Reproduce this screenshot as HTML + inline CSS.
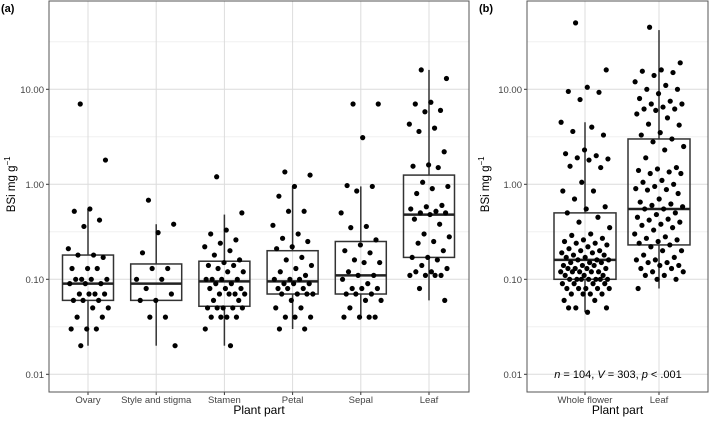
<!DOCTYPE html>
<html><head><meta charset="utf-8"><style>
body{margin:0;background:#fff}
svg text{font-family:"Liberation Sans",Arial,sans-serif}
</style></head><body>
<svg id="chart" width="709" height="419" viewBox="0 0 709 419" xmlns="http://www.w3.org/2000/svg"></svg>
<script>
// ---- data panel a ----
const catsA = ["Ovary","Style and stigma","Stamen","Petal","Sepal","Leaf"];
const q1A = [0.06,0.06,0.052,0.07,0.07,0.17];
const medA = [0.09,0.09,0.095,0.095,0.11,0.48];
const q3A = [0.18,0.145,0.155,0.2,0.25,1.25];
const loA = [0.02,0.02,0.02,0.03,0.04,0.06];
const hiA = [0.55,0.38,0.48,0.95,0.95,16];
const ptsOvary = [7,1.8,.55,.52,.42,.36,.21,.18,.18,.17,.13,.13,.13,.1,.1,.1,.1,.09,.09,.09,.07,.07,.07,.07,.06,.06,.06,.05,.05,.04,.04,.03,.03,.03,.02];
const ptsStyle = [.68,.38,.31,.19,.13,.13,.1,.1,.08,.07,.06,.06,.04,.04,.02];
const ptsStamen = [1.2,.5,.33,.3,.26,.24,.22,.2,.18,.16,.15,.14,.14,.13,.12,.12,.1,.1,.1,.1,.09,.09,.08,.08,.08,.07,.07,.07,.07,.06,.06,.05,.05,.05,.05,.05,.04,.04,.04,.04,.03,.02];
const ptsPetal = [1.35,1.25,.95,.75,.52,.52,.37,.3,.27,.25,.22,.21,.17,.16,.14,.13,.12,.11,.1,.1,.1,.09,.09,.09,.08,.08,.08,.07,.07,.07,.07,.06,.05,.05,.04,.04,.04,.03,.03];
const ptsSepal = [7,7,3.1,.97,.95,.85,.5,.36,.35,.26,.23,.2,.19,.16,.15,.15,.12,.11,.11,.1,.09,.08,.08,.08,.07,.07,.07,.06,.06,.05,.04,.04,.04,.04];
const ptsLeafA = [16,13,7.3,7,6,5.8,4.3,3.9,3.6,2.2,1.6,1.55,1.5,1.05,.95,.9,.8,.6,.58,.55,.52,.5,.5,.48,.43,.38,.3,.28,.25,.24,.2,.17,.17,.16,.14,.13,.12,.12,.11,.11,.11,.11,.08,.06];
// ---- data panel b ----
const catsB = ["Whole flower","Leaf"];
const q1B = [0.1,0.23];
const medB = [0.16,0.55];
const q3B = [0.5,3];
const loB = [0.045,0.08];
const hiB = [4.5,42];
const ptsWhole = [50,16,10.5,9.5,9.3,7.8,4.5,4,3.6,3.3,2.3,2.1,2,1.9,1.85,1.8,1.55,1.5,1.05,.85,.85,.7,.58,.55,.5,.45,.4,.35,.3,.29,.27,.26,.25,.24,.24,.23,.22,.21,.2,.2,.19,.19,.18,.18,.17,.17,.16,.16,.16,.15,.15,.15,.14,.14,.14,.13,.13,.13,.13,.12,.12,.12,.12,.12,.11,.11,.11,.1,.1,.1,.1,.1,.1,.1,.09,.09,.09,.09,.08,.08,.08,.08,.08,.07,.07,.07,.07,.06,.06,.05,.05,.045,.05];
const ptsLeafB = [45,19,16,15.5,15,14,12,11,10,10,9,8,7.5,7,7,6.5,6.2,6.2,6,5.5,5,4.3,4.2,3.5,3.3,3,2.8,2.5,2.3,1.9,1.5,1.45,1.4,1.35,1.3,1.3,1.1,1.05,1,.95,.9,.88,.87,.8,.7,.65,.62,.6,.58,.55,.55,.5,.48,.45,.43,.42,.4,.38,.37,.35,.33,.3,.28,.27,.26,.25,.24,.23,.22,.2,.2,.18,.17,.16,.16,.15,.15,.14,.14,.13,.13,.12,.12,.11,.11,.1,.1,.08];
const tickVals = [0.01,0.1,1,10];
const tickLabels = ["0.01","0.10","1.00","10.00"];

const NS="http://www.w3.org/2000/svg";
const svg=document.getElementById('chart');
function mk(tag,attrs,parent){const e=document.createElementNS(NS,tag);for(const k in attrs)e.setAttribute(k,attrs[k]);(parent||svg).appendChild(e);return e;}
function y(v){return 279.3-(Math.log10(v)+1)*95;}
function jit(i){const f=(i*0.618034+0.31)%1;return f*2-1;}

function panel(p){
  const g=mk('g',{});
  
  
  const top=1,bot=392;
  mk('rect',{x:p.x0,y:top,width:p.x1-p.x0,height:bot-top,fill:'#fff'},g);
  for(let e=-2;e<=1;e++){const yy=y(Math.pow(10,e+0.5));if(yy>top&&yy<bot)mk('line',{x1:p.x0,x2:p.x1,y1:yy,y2:yy,stroke:'#f0f0f0','stroke-width':1},g);}
  tickVals.forEach((v,i)=>{
    const yy=y(v);
    const gl=mk('line',{x1:p.x0,x2:p.x1,y1:yy,y2:yy,stroke:'#dcdcdc','stroke-width':1},g);
    
    
    mk('line',{x1:p.x0-3,x2:p.x0,y1:yy,y2:yy,stroke:'#333'},g);
    const t=mk('text',{x:p.x0-5,y:yy+3.5,'text-anchor':'end','font-size':'9.5',fill:'#444'},g);
    t.textContent=tickLabels[i];
    
    
  });
  p.cats.forEach((c,i)=>{
    const cx=p.cx(i);
    mk('line',{x1:cx,x2:cx,y1:top,y2:bot,stroke:'#dcdcdc'},g);
    mk('line',{x1:cx,x2:cx,y1:bot,y2:bot+3,stroke:'#333'},g);
    const t=mk('text',{x:cx,y:bot+11,'text-anchor':'middle','font-size':'9.5',fill:'#444'},g);
    t.textContent=c;
    
    
  });
  p.cats.forEach((c,i)=>{
    const cx=p.cx(i),hw=p.hw;
    const bg=mk('g',{},g);
    
    
    mk('line',{x1:cx,x2:cx,y1:y(p.hi[i]),y2:y(p.q3[i]),stroke:'#333','stroke-width':1.5},bg);
    mk('line',{x1:cx,x2:cx,y1:y(p.q1[i]),y2:y(p.lo[i]),stroke:'#333','stroke-width':1.5},bg);
    mk('rect',{x:cx-hw,y:y(p.q3[i]),width:2*hw,height:y(p.q1[i])-y(p.q3[i]),fill:'none',stroke:'#333','stroke-width':1.5},bg);
    mk('line',{x1:cx-hw,x2:cx+hw,y1:y(p.med[i]),y2:y(p.med[i]),stroke:'#222','stroke-width':2.5},bg);
    p.pts[i].forEach((v,j)=>{
      const d=mk('circle',{cx:cx+jit(j)*hw*0.8,cy:y(v),r:2.6,fill:'#000'},bg);
      
      
    });
  });
  mk('rect',{x:p.x0,y:top,width:p.x1-p.x0,height:bot-top,fill:'none',stroke:'#555','stroke-width':1},g);
  const xt=mk('text',{x:(p.x0+p.x1)/2,y:414,'text-anchor':'middle','font-size':'12',fill:'#000'},g);
  xt.textContent='Plant part';
  
  
  const yt=mk('text',{transform:`translate(${p.ytx},${y(1)}) rotate(-90)`,'text-anchor':'middle','font-size':'11.5',fill:'#000'},g);
  yt.innerHTML='BSi mg g<tspan dy="-5" font-size="8">−1</tspan>';
  
  
  const lb=mk('text',{x:p.lx,y:12,'font-size':'11','font-weight':'bold',fill:'#000'},g);
  lb.textContent=p.label;
  
  
  return g;
}
panel({name:'panel-a',x0:49,x1:469,cats:catsA,cx:i=>88+i*68.2,hw:25.5,q1:q1A,med:medA,q3:q3A,lo:loA,hi:hiA,
  pts:[ptsOvary,ptsStyle,ptsStamen,ptsPetal,ptsSepal,ptsLeafA],ytx:15,lx:1,label:'(a)'});
panel({name:'panel-b',x0:527,x1:708,cats:catsB,cx:i=>585+i*74,hw:31,q1:q1B,med:medB,q3:q3B,lo:loB,hi:hiB,
  pts:[ptsWhole,ptsLeafB],ytx:489,lx:479,label:'(b)'});
const st=mk('text',{x:618,y:378,'text-anchor':'middle','font-size':'11',fill:'#000'});
st.innerHTML='<tspan font-style="italic">n</tspan> = 104, <tspan font-style="italic">V</tspan> = 303, <tspan font-style="italic">p</tspan> &lt; .001';


</script>
</body></html>
